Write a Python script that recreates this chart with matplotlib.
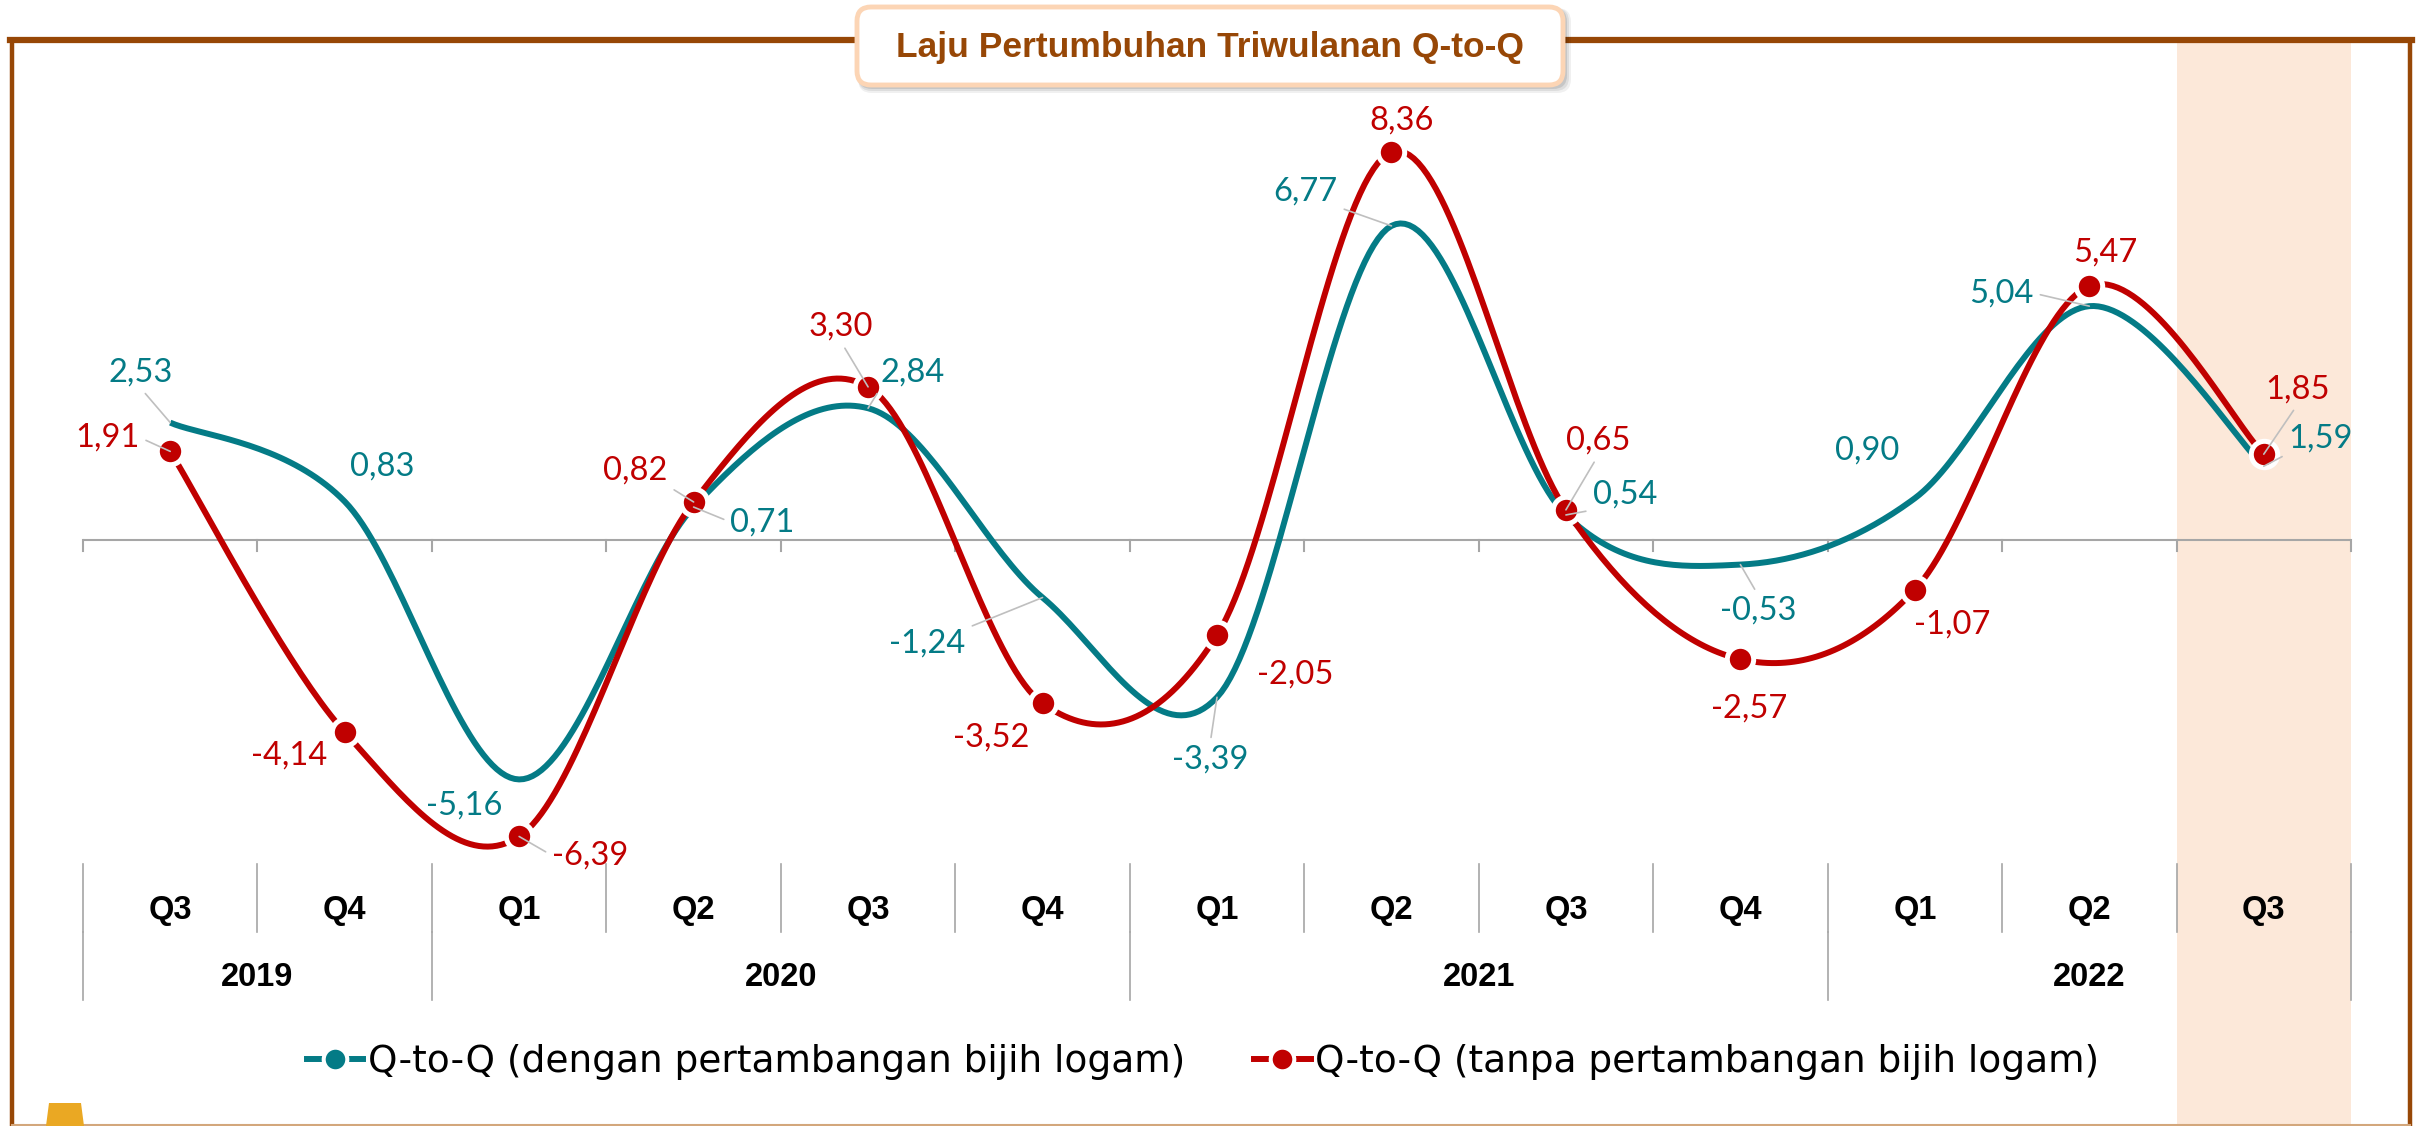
import numpy as np
import matplotlib
matplotlib.use("Agg")
import matplotlib.pyplot as plt
from matplotlib import font_manager
from matplotlib.lines import Line2D
from matplotlib.patches import Rectangle, FancyBboxPatch, Polygon
from matplotlib.transforms import Affine2D, blended_transform_factory

# data
quarters = ["Q3", "Q4", "Q1", "Q2", "Q3", "Q4", "Q1", "Q2", "Q3", "Q4", "Q1", "Q2", "Q3"]
years = ["2019", "2020", "2021", "2022"]
year_span = [(-0.5, 1.5), (1.5, 5.5), (5.5, 9.5), (9.5, 12.5)]
dengan = [2.53, 0.83, -5.16, 0.71, 2.84, -1.24, -3.39, 6.77, 0.54, -0.53, 0.90, 5.04, 1.59]
tanpa = [1.91, -4.14, -6.39, 0.82, 3.30, -3.52, -2.05, 8.36, 0.65, -2.57, -1.07, 5.47, 1.85]
legend_labels = ["Q-to-Q (dengan pertambangan bijih logam)",
                 "Q-to-Q (tanpa pertambangan bijih logam)"]
title = "Laju Pertumbuhan Triwulanan Q-to-Q"

# label offsets in pixels (dx right, dy down) and leader flags
teal_off = [(-30, -50), (38, -35), (-55, 26), (69, 15), (45, -36), (-115, 46), (-7, 62),
            (-86, -34), (59, -20), (18, 46), (-48, -48), (-88, -13), (57, -28)]
red_off = [(-63, -14), (-56, 23), (71, 19), (-58, -31), (-27, -60), (-51, 34), (78, 39),
           (10, -32), (32, -69), (9, 49), (37, 35), (16, -34), (34, -65)]
teal_lead = [1, 0, 0, 1, 1, 1, 1, 1, 1, 1, 0, 1, 1]
red_lead = [1, 0, 1, 1, 1, 0, 0, 0, 1, 0, 0, 0, 1]

TEAL = "#047B86"
RED = "#C00000"
BROWN = "#974706"
GRAY = "#A6A6A6"

# narrow bold font if there is one, else plain Liberation Sans a bit smaller
installed = {f.name for f in font_manager.fontManager.ttflist}
if "Liberation Sans Narrow" in installed:
    NARROW, title_size, cat_size = "Liberation Sans Narrow", 31, 25
else:
    NARROW, title_size, cat_size = "Liberation Sans", 25.5, 23.5

W, H = 2418, 1126
fig = plt.figure(figsize=(W / 100, H / 100), dpi=100)
px = Affine2D().scale(1 / W, -1 / H).translate(0, 1) + fig.transFigure


def smooth(xs, ys, n=40):
    # excel-like smoothed line (catmull-rom bezier)
    pts = np.column_stack([xs, ys]).astype(float)
    ext = np.vstack([pts[0], pts, pts[-1]])
    out = []
    t = np.linspace(0, 1, n)[:, None]
    for i in range(len(pts) - 1):
        p0, p1, p2, p3 = ext[i], ext[i + 1], ext[i + 2], ext[i + 3]
        c1 = p1 + (p2 - p0) / 6
        c2 = p2 - (p3 - p1) / 6
        seg = (1 - t) ** 3 * p1 + 3 * (1 - t) ** 2 * t * c1 + 3 * (1 - t) * t ** 2 * c2 + t ** 3 * p2
        out.append(seg if i == 0 else seg[1:])
    return np.vstack(out)


ax = fig.add_axes([83 / W, 1 - 860 / H, (2351 - 83) / W, (860 - 40) / H])
ax.set_xlim(-0.5, 12.5)
ax.set_ylim(-(860 - 540) / 46.4, (540 - 40) / 46.4)
ax.axis("off")
cat = blended_transform_factory(ax.transData, px)

# highlighted last quarter
fig.add_artist(Rectangle((11.5, 40), 1.0, 1090, transform=cat, facecolor="#FCE8D9",
                         edgecolor="none", zorder=-5))

x = np.arange(len(quarters))
ax.axhline(0, color=GRAY, lw=1.5, zorder=1)
for b in np.arange(-0.5, 13, 1.0):
    ax.plot([b, b], [540, 551], transform=cat, color=GRAY, lw=1.5, clip_on=False)
    ax.plot([b, b], [864, 932], transform=cat, color=GRAY, lw=1.2, clip_on=False)
for a, b in year_span:
    ax.plot([a, a], [932, 1000], transform=cat, color=GRAY, lw=1.2, clip_on=False)
ax.plot([12.5, 12.5], [932, 1000], transform=cat, color=GRAY, lw=1.2, clip_on=False)

for i, q in enumerate(quarters):
    ax.text(i, 910, q, transform=cat, ha="center", va="center", fontsize=cat_size,
            fontweight="bold", family=NARROW)
for yr, (a, b) in zip(years, year_span):
    ax.text((a + b) / 2, 977, yr, transform=cat, ha="center", va="center", fontsize=cat_size,
            fontweight="bold", family=NARROW)

s1 = smooth(x, dengan)
s2 = smooth(x, tanpa)
ax.plot(s1[:, 0], s1[:, 1], color=TEAL, lw=4.3, zorder=3, solid_capstyle="butt", clip_on=False)
ax.plot(s2[:, 0], s2[:, 1], color=RED, lw=4.3, zorder=4, solid_capstyle="butt", clip_on=False)
ax.plot(x, tanpa, ls="none", marker="o", ms=19, mfc=RED, mec="white", mew=3.6,
        zorder=6, clip_on=False)


def fmt(v):
    return f"{v:.2f}".replace(".", ",")


def put_labels(vals, offs, leads, color):
    for i, (v, (dx, dy), ld) in enumerate(zip(vals, offs, leads)):
        props = None
        if ld:
            rx = 1 if dx < -40 else (0 if dx > 40 else 0.5)
            ry = 0.5 if abs(dy) < 20 else (0 if dy < 0 else 1)
            props = dict(arrowstyle="-", color="#BFBFBF", lw=1.2, shrinkA=3, shrinkB=0,
                         relpos=(rx, ry))
        ax.annotate(fmt(v), xy=(i, v), xytext=(dx, -dy), textcoords="offset pixels",
                    ha="center", va="center", fontsize=23.5, color=color, family="Lato",
                    arrowprops=props, zorder=7, annotation_clip=False)


put_labels(dengan, teal_off, teal_lead, TEAL)
put_labels(tanpa, red_off, red_lead, RED)

# frame
fig.add_artist(Line2D([12, 12], [40, 1126], transform=px, color=BROWN, lw=3.2, zorder=5))
fig.add_artist(Line2D([2410, 2410], [40, 1126], transform=px, color=BROWN, lw=3.2, zorder=5))
fig.add_artist(Line2D([10, 2412], [40, 40], transform=px, color=BROWN, lw=4.5, zorder=5))
fig.add_artist(Line2D([12, 2410], [1124.5, 1124.5], transform=px, color="#D3A77C", lw=1.5, zorder=5))
fig.add_artist(Polygon([(46, 1126), (49, 1103), (81, 1103), (84, 1126)], closed=True,
                       transform=px, facecolor="#EAA823", edgecolor="none", zorder=5))

# title box with soft shadow
for k, al in enumerate([0.06, 0.08, 0.1]):
    o = 7 - 2 * k
    fig.add_artist(FancyBboxPatch((857 + 1, 7 + 1), 706 + o, 78 + o, transform=px,
                                  boxstyle="round,pad=0,rounding_size=14",
                                  facecolor="black", edgecolor="none", alpha=al, zorder=8))
fig.add_artist(FancyBboxPatch((857, 7), 706, 78, transform=px,
                              boxstyle="round,pad=0,rounding_size=14",
                              facecolor="white", edgecolor="#FCD5B5", lw=3.5, zorder=9))
fig.text(1210, 47, title, transform=px, ha="center", va="center", fontsize=title_size,
         fontweight="bold", color=BROWN, family=NARROW, zorder=10)

# legend
handles = [Line2D([], [], color=c, lw=4.3, marker="o", ms=17, mfc=c, mec="white", mew=2.9)
           for c in (TEAL, RED)]
fig.legend(handles, legend_labels, loc="center", bbox_to_anchor=(1203 / W, 1 - 1062 / H),
           ncol=2, frameon=False, prop={"family": "DejaVu Sans", "size": 27},
           handlelength=1.5, handletextpad=0.12, columnspacing=1.85, borderpad=0,
           numpoints=1)

fig.savefig("out.png", dpi=100)
